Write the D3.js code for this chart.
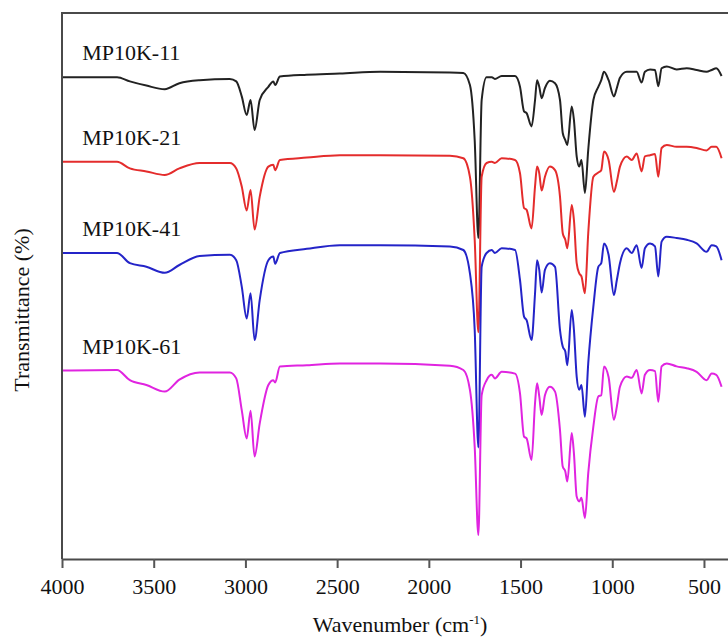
<!DOCTYPE html>
<html>
<head>
<meta charset="utf-8">
<script src="https://cdn.jsdelivr.net/npm/d3@7"></script>
<style>
body{margin:0;background:#fff}
svg{display:block}
</style>
</head>
<body>
<script>
// FTIR spectra, offset vertically (values in arbitrary transmittance units)
var wavenumbers=[4000,3700,3630,3540,3440,3360,3250,3085,3050,3020,2993,2972,2950,2922,2875,2848,2838,2812,2665,2485,2265,
	1885,1812,1776,1750,1730,1712,1685,1657,1640,1603,1530,1503,1481,1467,1440,1421,1410,1398,1385,1367,1340,1312,1285,1270,
	1256,1245,1221,1209,1194,1180,1168,1149,1131,1103,1076,1060,1045,1020,991,975,958,921,894,867,840,822,794,767,749,731,
	703,649,594,540,486,458,433,404]

var mp10k11=[80.3,80.3,79.6,78.9,78.3,79.3,79.8,80.0,79.6,77.1,74.0,76.5,71.5,76.5,78.7,79.6,79.0,80.4,80.7,80.9,81.2,
	81.1,81.0,79.0,69.8,53.5,76.5,80.3,80.3,80.0,80.5,80.5,78.7,74.6,74.3,72.1,76.5,79.8,78.7,76.8,78.5,79.7,79.3,76.5,71.0,
	69.8,69.0,75.4,73.2,67.1,65.4,66.5,61.0,68.2,76.5,78.7,79.8,81.2,79.8,77.1,78.5,80.2,81.2,81.2,81.2,79.4,81.2,81.6,81.5,78.8,81.8,
	82.1,81.6,81.8,81.5,81.2,81.5,81.8,80.5]

var mp10k21=[66.2,66.2,65.1,64.6,64.0,65.1,66.0,66.0,65.1,62.1,58.1,61.5,54.9,60.4,65.4,65.7,64.8,66.5,66.9,67.3,67.3,
	67.2,66.8,63.7,53.2,37.8,63.7,66.0,66.2,66.0,66.8,66.5,64.3,58.5,58.2,55.1,62.1,65.4,64.3,61.4,63.7,65.4,64.8,60.4,54.3,
	53.2,51.8,59.0,56.5,49.3,47.6,47.1,44.3,54.3,63.7,64.4,64.8,67.9,66.5,61.2,62.9,65.4,67.1,66.5,67.6,64.6,67.1,67.3,67.5,63.7,68.5,
	69.0,68.7,68.7,68.5,68.1,68.7,68.7,66.8]

var mp10k41=[51.0,51.0,49.3,48.7,47.7,49.0,50.5,50.7,49.8,45.4,40.1,44.3,36.5,43.2,49.8,50.4,49.2,51.0,51.7,52.3,52.3,
	52.1,51.5,47.6,38.2,18.6,48.7,51.0,51.5,51.0,51.8,51.5,46.5,40.4,39.8,36.5,44.3,49.8,48.2,44.4,48.2,49.3,48.7,38.2,35.4,
	34.6,32.3,41.5,38.2,30.4,28.2,29.0,23.7,32.6,42.1,48.7,49.3,52.6,50.7,44.0,46.5,49.3,51.8,51.0,52.3,48.5,51.8,52.6,52.1,47.1,52.9,
	53.7,53.5,53.2,52.6,51.2,52.3,52.1,49.8]

var mp10k61=[31.4,31.5,29.8,29.0,27.9,29.9,31.1,31.1,30.1,24.8,20.1,24.7,17.1,22.6,29.0,29.8,29.4,32.1,32.3,32.6,32.6,
	32.2,31.5,28.2,18.7,4.0,27.3,29.8,30.7,30.1,31.2,30.9,27.6,20.4,20.1,16.5,26.0,29.3,27.1,24.0,27.3,28.7,27.9,21.5,15.4,
	14.6,12.9,21.0,17.6,10.4,9.6,10.2,6.8,14.3,22.1,27.1,27.3,32.1,30.3,23.2,25.4,28.7,30.4,30.2,31.5,27.6,30.7,31.5,31.3,26.2,32.1,
	32.6,32.1,31.8,31.2,29.8,30.9,30.7,28.7]

var seriesNames=["MP10K-11","MP10K-21","MP10K-41","MP10K-61"]
var seriesColors=["#222222","#e42c2c","#2424c8","#e024e0"]
var xTicks=[4000,3500,3000,2500,2000,1500,1000,500]

var width=728, height=641
var padding={left:62,right:0,top:13,bottom:82}
var font="'Liberation Serif','Times New Roman',serif"

var svg=d3.select("body").append("svg")
	.attr("width",width)
	.attr("height",height)

var scaleX=d3.scaleLinear().domain([4000,369]).range([padding.left,width-padding.right])
var scaleY=d3.scaleLinear().domain([0,91]).range([height-padding.bottom,padding.top])

var allSeries=[mp10k11,mp10k21,mp10k41,mp10k61]

var line=d3.line()
	.x(function(d){return scaleX(d[0])})
	.y(function(d){return scaleY(d[1])})
	.curve(d3.curveMonotoneX)

var g=svg.append("g").attr("class","spectra")
for(var i=0;i<allSeries.length;i++)
{
	var pts=wavenumbers.map(function(w,j){return [w,allSeries[i][j]]})
	g.append("path")
		.datum(pts)
		.attr("d",line)
		.attr("fill","none")
		.attr("stroke",seriesColors[i])
		.attr("stroke-width",2)
		.attr("stroke-linejoin","round")
	// label sits just above where the trace starts
	svg.append("text")
		.attr("x",scaleX(3890))
		.attr("y",scaleY(allSeries[i][0])-17)
		.attr("font-family",font)
		.attr("font-size","22px")
		.attr("fill","#111")
		.text(seriesNames[i])
}

// frame: top line + left line, bottom axis
svg.append("line")
	.attr("x1",padding.left).attr("x2",width)
	.attr("y1",padding.top).attr("y2",padding.top)
	.attr("stroke","#4a4a4a").attr("stroke-width",2)
svg.append("line")
	.attr("x1",padding.left).attr("x2",padding.left)
	.attr("y1",padding.top-1).attr("y2",height-padding.bottom)
	.attr("stroke","#4a4a4a").attr("stroke-width",2)

var xAxis=d3.axisBottom(scaleX)
	.tickValues(xTicks)
	.tickFormat(d3.format("d"))
	.tickSize(9)
	.tickPadding(10)
	.tickSizeOuter(0)
var ax=svg.append("g")
	.attr("class","x axis")
	.attr("transform","translate(0,"+(height-padding.bottom)+")")
	.call(xAxis)
ax.select(".domain").attr("stroke","#4a4a4a").attr("stroke-width",2)
ax.selectAll(".tick line").attr("stroke","#555").attr("stroke-width",2)
ax.selectAll(".tick text")
	.attr("font-family",font)
	.attr("font-size","22px")
	.attr("fill","#111")

var xt=svg.append("text")
	.attr("x",400)
	.attr("y",632)
	.attr("text-anchor","middle")
	.attr("font-family",font)
	.attr("font-size","22px")
	.attr("fill","#111")
xt.append("tspan").text("Wavenumber (cm")
xt.append("tspan").attr("dy",-8).attr("font-size","13px").text("-1")
xt.append("tspan").attr("dy",8).text(")")

svg.append("text")
	.attr("transform","translate(29,310) rotate(-90)")
	.attr("text-anchor","middle")
	.attr("font-family",font)
	.attr("font-size","22px")
	.attr("fill","#111")
	.text("Transmittance (%)")
</script>
</body>
</html>
